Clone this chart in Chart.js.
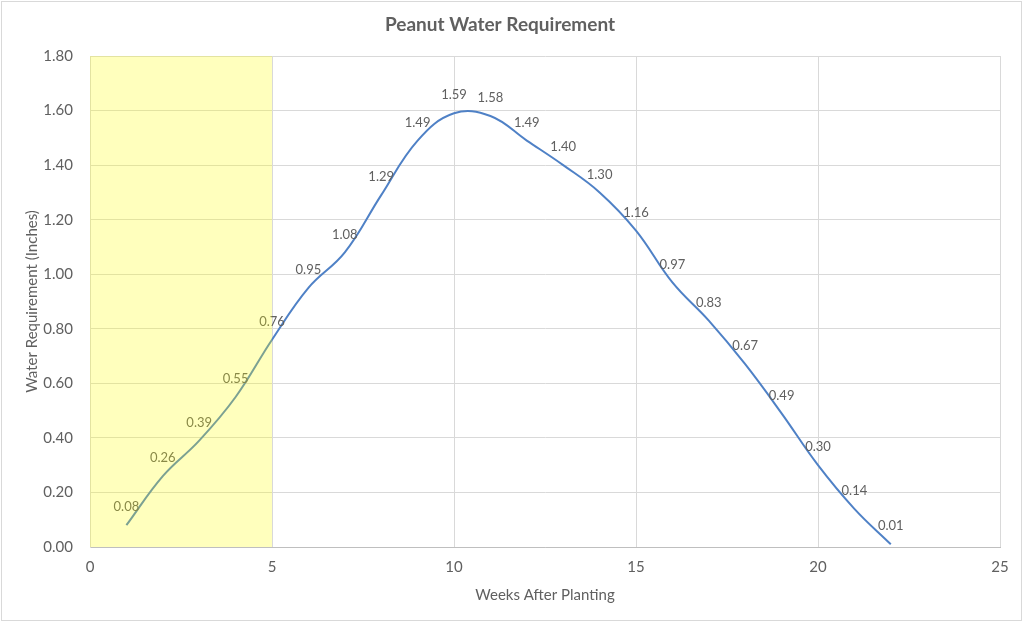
<!DOCTYPE html>
<html>
<head>
<meta charset="utf-8">
<script src="https://cdn.jsdelivr.net/npm/chart.js@4.4.1/dist/chart.umd.min.js"></script>
<style>
html,body{margin:0;padding:0;background:#fff;}
#wrap{width:1024px;height:624px;position:relative;}
</style>
</head>
<body>
<div id="wrap"><canvas id="c" width="1024" height="624"></canvas></div>
<script>
const weeks = [1,2,3,4,5,6,7,8,9,10,11,12,13,14,15,16,17,18,19,20,21,22];
const waterInches = [0.08,0.26,0.39,0.55,0.76,0.95,1.08,1.29,1.49,1.59,1.58,1.49,1.40,1.30,1.16,0.97,0.83,0.67,0.49,0.30,0.14,0.01];
const shadedRange = [0,5];
const xTicks = [0,5,10,15,20,25];
const yTicks = [0,0.2,0.4,0.6,0.8,1.0,1.2,1.4,1.6,1.8];

const FONT = 'Lato, "Open Sans", "DejaVu Sans", sans-serif';
const TXT = '#606060';

const frame = {
  id:'frame',
  beforeDraw(chart){
    const ctx = chart.ctx;
    ctx.save();
    ctx.fillStyle='#fff';
    ctx.fillRect(0,0,chart.width,chart.height);
    ctx.strokeStyle='#d9d9d9';
    ctx.lineWidth=1;
    ctx.strokeRect(1.5,1.5,1020,619);
    ctx.restore();
  }
};

const labels = {
  id:'pointLabels',
  afterDatasetsDraw(chart){
    const ctx = chart.ctx;
    const meta = chart.getDatasetMeta(0);
    ctx.save();
    ctx.font = '13px ' + FONT;
    ctx.fillStyle = TXT;
    ctx.textAlign='center';
    ctx.textBaseline='middle';
    meta.data.forEach((pt,i)=>{
      ctx.fillText(waterInches[i].toFixed(2), pt.x, pt.y - 18);
    });
    ctx.restore();
  }
};

const shade = {
  id:'shade',
  afterDraw(chart){
    const {ctx, chartArea, scales} = chart;
    const x0 = scales.x.getPixelForValue(shadedRange[0]);
    const x1 = scales.x.getPixelForValue(shadedRange[1]);
    ctx.save();
    ctx.fillStyle='rgba(255,255,0,0.26)';
    ctx.fillRect(x0, chartArea.top, x1-x0, chartArea.bottom-chartArea.top);
    ctx.restore();
  }
};

new Chart(document.getElementById('c'), {
  type:'line',
  data:{
    datasets:[{
      data: weeks.map((w,i)=>({x:w,y:waterInches[i]})),
      borderColor:'#4f81c6',
      borderWidth:2,
      pointRadius:0,
      tension:0.4,
      fill:false
    }]
  },
  options:{
    responsive:false,
    animation:false,
    devicePixelRatio:1,
    layout:{padding:{left:0,right:24,top:0,bottom:0}},
    plugins:{
      legend:{display:false},
      tooltip:{enabled:false},
      title:{
        display:true,
        text:'Peanut Water Requirement',
        color:TXT,
        font:{family:FONT,size:19,weight:'bold'},
        padding:{top:13.6,bottom:19.6}
      }
    },
    scales:{
      x:{
        type:'linear',
        min:0,max:25,
        afterBuildTicks(s){ s.ticks = xTicks.map(v=>({value:v})); },
        afterFit(s){ s.height = 77; },
        grid:{color:'#d9d9d9',drawTicks:false},
        border:{color:'#bfbfbf'},
        ticks:{color:TXT,font:{family:FONT,size:15},padding:11,maxRotation:0},
        title:{display:true,text:'Weeks After Planting',color:TXT,font:{family:FONT,size:15},padding:{top:0,bottom:20}}
      },
      y:{
        type:'linear',
        min:0,max:1.8,
        afterBuildTicks(s){ s.ticks = yTicks.map(v=>({value:v})); },
        afterFit(s){ s.width = 90; },
        grid:{color:'#d9d9d9',drawTicks:false},
        border:{color:'#d9d9d9'},
        ticks:{color:TXT,font:{family:FONT,size:15},padding:17,callback:v=>v.toFixed(2)},
        title:{display:true,text:'Water Requirement (Inches)',color:TXT,font:{family:FONT,size:15},padding:{top:23,bottom:0}}
      }
    }
  },
  plugins:[frame,labels,shade]
});
</script>
</body>
</html>
